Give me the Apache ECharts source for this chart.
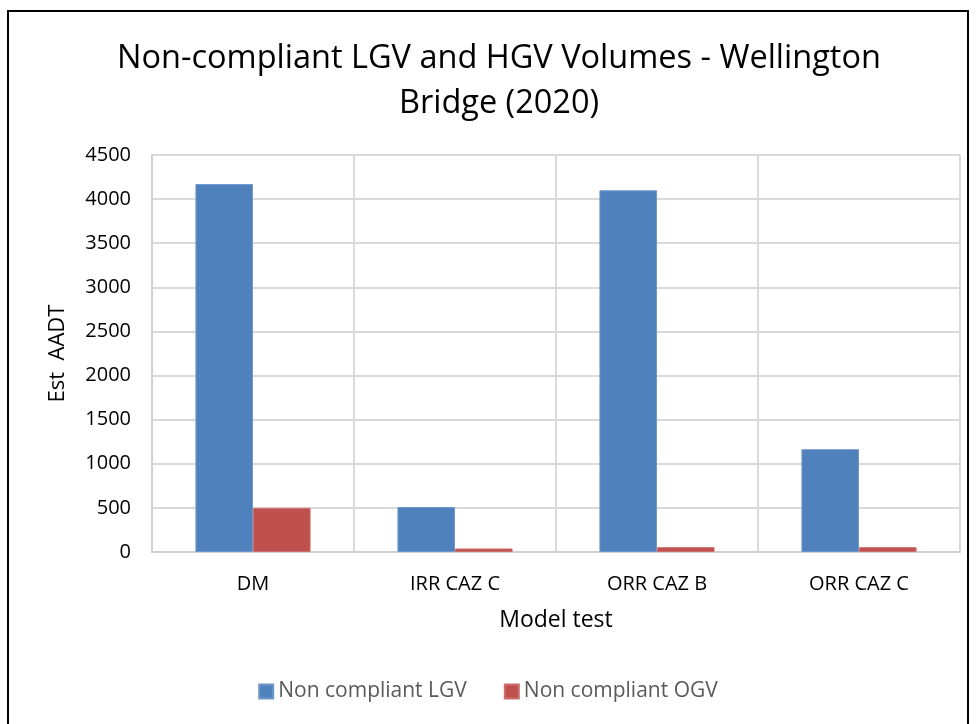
<!DOCTYPE html>
<html>
<head>
<meta charset="utf-8">
<script src="https://cdn.jsdelivr.net/npm/echarts@6/dist/echarts.min.js"></script>
<style>
  html, body { margin: 0; padding: 0; background: #fff; }
  #frame { position: absolute; left: 7px; top: 10px; width: 962px; height: 730px; border: 2px solid #000; box-sizing: border-box; }
  #chart { position: absolute; left: 0; top: 0; width: 976px; height: 724px; }
</style>
</head>
<body>
<div id="frame"></div>
<div id="chart"></div>
<script>
var categories = ['DM', 'IRR CAZ C', 'ORR CAZ B', 'ORR CAZ C'];
var lgvValues = [4170, 510, 4100, 1165];
var ogvValues = [500, 40, 55, 55];
var seriesNames = ['Non compliant LGV', 'Non compliant OGV'];

var font = '"Open Sans", "Noto Sans", sans-serif';
var chart = echarts.init(document.getElementById('chart'));
chart.setOption({
    animation: false,
    textStyle: { fontFamily: font },
    title: {
        text: 'Non-compliant LGV and HGV Volumes - Wellington\nBridge (2020)',
        left: 494,
        top: 31,
        textAlign: 'center',
        textStyle: { fontFamily: font, fontSize: 32.5, fontWeight: 'normal', color: '#000', lineHeight: 45 }
    },
    legend: {
        bottom: 17,
        left: 'center',
        itemWidth: 14,
        itemHeight: 14,
        itemGap: 37,
        icon: 'rect',
        textStyle: { fontFamily: font, fontSize: 21, color: '#595959' },
        data: seriesNames
    },
    grid: { left: 152, right: 16, top: 155, bottom: 172, containLabel: false },
    xAxis: {
        type: 'category',
        data: categories,
        name: 'Model test',
        nameLocation: 'middle',
        nameGap: 57,
        nameTextStyle: { fontFamily: font, fontSize: 23, color: '#000' },
        axisLine: { lineStyle: { color: '#d0d0d0', width: 2 } },
        axisTick: { show: false },
        axisLabel: { fontFamily: font, fontSize: 20, color: '#000', margin: 22 },
        splitLine: { show: true, lineStyle: { color: '#d9d9d9', width: 2 } }
    },
    yAxis: {
        type: 'value',
        min: 0,
        max: 4500,
        interval: 500,
        name: 'Est  AADT',
        nameLocation: 'middle',
        nameGap: 83,
        nameTextStyle: { fontFamily: font, fontSize: 22, color: '#000' },
        axisLine: { show: true, lineStyle: { color: '#d0d0d0', width: 2 } },
        axisTick: { show: false },
        axisLabel: { fontFamily: font, fontSize: 20, color: '#000', margin: 21, formatter: function (v) { return String(v); } },
        splitLine: { show: true, lineStyle: { color: '#d9d9d9', width: 2 } }
    },
    series: [
        {
            name: seriesNames[0],
            type: 'bar',
            data: lgvValues,
            barGap: '0%',
            barCategoryGap: '43%',
            itemStyle: { color: '#4f81bd', borderColor: '#6f97c9', borderWidth: 1 }
        },
        {
            name: seriesNames[1],
            type: 'bar',
            data: ogvValues,
            itemStyle: { color: '#c0504d', borderColor: '#cd6f6c', borderWidth: 1 }
        }
    ]
});
</script>
</body>
</html>
